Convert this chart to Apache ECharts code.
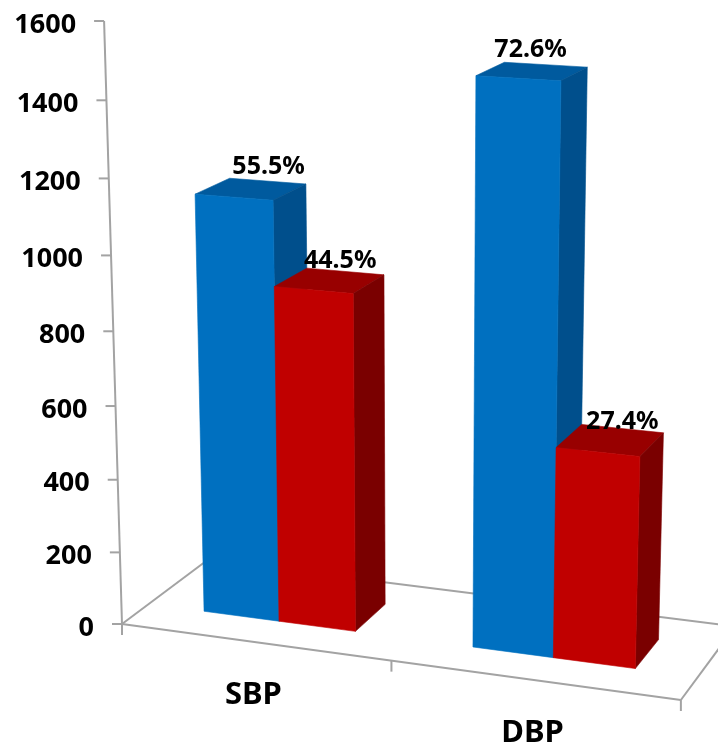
<!DOCTYPE html>
<html>
<head>
<meta charset="utf-8">
<style>html,body{margin:0;padding:0;background:#fff}#chart{width:718px;height:744px}</style>
<script src="https://cdn.jsdelivr.net/npm/echarts@6/dist/echarts.min.js"></script>
</head>
<body>
<div id="chart"></div>
<script>
const categories = ['SBP', 'DBP'];
const blueCounts = [1139, 1490];
const redCounts = [913, 562];
const bluePercent = ['55.5%', '72.6%'];
const redPercent = ['44.5%', '27.4%'];
const yTicks = [0, 200, 400, 600, 800, 1000, 1200, 1400, 1600];

// Perspective camera: plot origin on screen plus the three vanishing points,
// each weighted so that a unit step along the axis lands on the plot's far edge.
const ORIGIN = [122, 624];
const VP_X = { p: [-7407, -400], k: -0.0691 };
const VP_Y = { p: [421, 10686], k: -0.05654 };
const VP_Z = { p: [1497, -406], k: 0.0663 };

function project(x, y, z) {
  const w = 1 + VP_X.k * x + VP_Y.k * y + VP_Z.k * z;
  const sx = ORIGIN[0] + VP_X.k * x * VP_X.p[0] + VP_Y.k * y * VP_Y.p[0] + VP_Z.k * z * VP_Z.p[0];
  const sy = ORIGIN[1] + VP_X.k * x * VP_X.p[1] + VP_Y.k * y * VP_Y.p[1] + VP_Z.k * z * VP_Z.p[1];
  return [sx / w, sy / w];
}

// Scale output of the hidden cartesian axes, normalised to the 0..1 plot box.
function unitX(px, rect) { return (px - rect.x) / rect.width; }
function unitY(py, rect) { return (rect.y + rect.height - py) / rect.height; }

const FONT = '"Noto Sans", "Open Sans", sans-serif';
const AXIS_COLOR = '#a3a3a3';
const BAR_DEPTH = [0.3, 0.7];
const BARS_PER_BAND = 3.5; // two bars plus a 150% gap

function segment(a, b) {
  return {
    type: 'line',
    shape: { x1: a[0], y1: a[1], x2: b[0], y2: b[1] },
    style: { stroke: AXIS_COLOR, lineWidth: 2 }
  };
}

function face(points, color) {
  return {
    type: 'polygon',
    shape: { points },
    style: { fill: color, stroke: color, lineWidth: 0.6 }
  };
}

function barRenderer(slot, colors, labels, labelOffsets) {
  return function (params, api) {
    const rect = params.coordSys;
    const idx = api.value(0);
    const value = api.value(1);
    const band = api.size([1, 0])[0];
    const centre = api.coord([idx, 0])[0];
    const barW = band / BARS_PER_BAND;
    const x0 = unitX(centre - barW + slot * barW, rect);
    const x1 = unitX(centre + slot * barW, rect);
    const top = unitY(api.coord([idx, value])[1], rect);
    const z0 = BAR_DEPTH[0], z1 = BAR_DEPTH[1];

    const frontBL = project(x0, 0, z0), frontBR = project(x1, 0, z0);
    const frontTL = project(x0, top, z0), frontTR = project(x1, top, z0);
    const backBR = project(x1, 0, z1);
    const backTL = project(x0, top, z1), backTR = project(x1, top, z1);
    const anchor = project((x0 + x1) / 2, top, z1);
    const nudge = labelOffsets[idx];

    return {
      type: 'group',
      children: [
        face([frontTL, frontTR, backTR, backTL], colors.top),
        face([frontTR, frontBR, backBR, backTR], colors.side),
        face([frontTL, frontTR, frontBR, frontBL], colors.front),
        {
          type: 'text',
          style: {
            text: labels[idx],
            x: anchor[0] + nudge[0],
            y: anchor[1] + nudge[1],
            textAlign: 'center',
            textVerticalAlign: 'middle',
            fontFamily: FONT,
            fontWeight: 'bold',
            fontSize: 25,
            fill: '#000'
          }
        }
      ]
    };
  };
}

function floorRenderer(params, api) {
  const o = project(0, 0, 0);
  const fr = project(1, 0, 0);
  const bl = project(0, 0, 1);
  const br = project(1, 0, 1);
  const up = project(0, 1, 0);
  const children = [segment(o, up), segment(o, fr), segment(o, bl), segment(bl, br), segment(fr, br)];
  [0, 0.5, 1].forEach(function (x) {
    const p = project(x, 0, 0);
    children.push(segment(p, [p[0], p[1] + 11]));
  });
  return { type: 'group', children };
}

function yTickRenderer(params, api) {
  const rect = params.coordSys;
  const y = unitY(api.coord([0, api.value(1)])[1], rect);
  const p = project(0, y, 0);
  return {
    type: 'group',
    children: [
      segment(p, [p[0] - 10, p[1]]),
      {
        type: 'text',
        style: {
          text: String(api.value(1)),
          x: p[0] - 28,
          y: p[1] + 4,
          textAlign: 'right',
          textVerticalAlign: 'middle',
          fontFamily: FONT,
          fontWeight: 'bold',
          fontSize: 27,
          fill: '#000'
        }
      }
    ]
  };
}

function categoryRenderer(params, api) {
  const rect = params.coordSys;
  const idx = api.value(0);
  const p = project(unitX(api.coord([idx, 0])[0], rect), 0, 0);
  return {
    type: 'text',
    style: {
      text: categories[idx],
      x: p[0] - 1,
      y: p[1] + 53,
      textAlign: 'center',
      textVerticalAlign: 'middle',
      fontFamily: FONT,
      fontWeight: 'bold',
      fontSize: 31,
      fill: '#000'
    }
  };
}

const BLUE = { front: '#0070c0', side: '#004f8c', top: '#005a9e' };
const RED = { front: '#c00000', side: '#7a0000', top: '#980000' };

const chart = echarts.init(document.getElementById('chart'), null, { renderer: 'canvas' });
chart.setOption({
  animation: false,
  backgroundColor: '#ffffff',
  grid: { left: 122, top: 21, width: 559, height: 603 },
  xAxis: { type: 'category', data: categories, show: false },
  yAxis: { type: 'value', min: 0, max: 1600, interval: 200, show: false },
  series: [
    {
      type: 'custom', name: 'floor', coordinateSystem: 'cartesian2d',
      renderItem: floorRenderer, data: [[0, 0]], silent: true, clip: false
    },
    {
      type: 'custom', name: 'yTicks', coordinateSystem: 'cartesian2d',
      renderItem: yTickRenderer, data: yTicks.map(function (v) { return [0, v]; }),
      encode: { x: 0, y: 1 }, silent: true, clip: false
    },
    {
      type: 'custom', name: 'categories', coordinateSystem: 'cartesian2d',
      renderItem: categoryRenderer, data: categories.map(function (c, i) { return [i, 0]; }),
      encode: { x: 0, y: 1 }, silent: true, clip: false
    },
    {
      type: 'custom', name: 'blue', coordinateSystem: 'cartesian2d',
      renderItem: barRenderer(0, BLUE, bluePercent, [[1, -14], [-15, -15]]),
      data: blueCounts.map(function (v, i) { return [i, v]; }),
      encode: { x: 0, y: 1 }, silent: true, clip: false
    },
    {
      type: 'custom', name: 'red', coordinateSystem: 'cartesian2d',
      renderItem: barRenderer(1, RED, redPercent, [[-5, -11], [0, -7]]),
      data: redCounts.map(function (v, i) { return [i, v]; }),
      encode: { x: 0, y: 1 }, silent: true, clip: false
    }
  ]
});
</script>
</body>
</html>
